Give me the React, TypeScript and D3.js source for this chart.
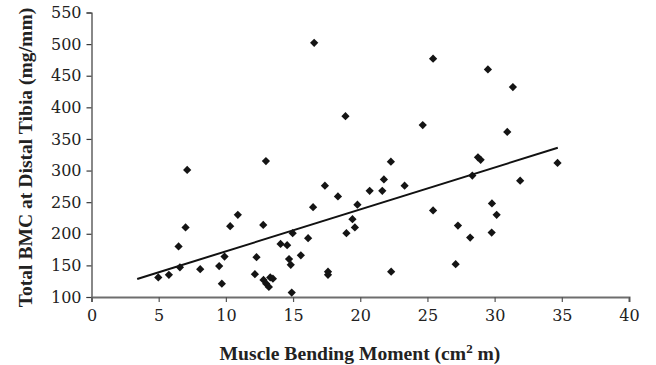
import React, { useEffect, useRef } from 'react';
import * as d3 from 'd3';

// Muscle bending moment (cm² m) vs total BMC at distal tibia (mg/mm)
const momentX = [
  4.97, 5.76, 6.58, 6.48, 7.0, 7.12, 8.09, 9.5, 9.7, 9.9, 10.32, 10.89,
  12.16, 12.28, 12.78, 12.98, 12.8, 13.0, 13.2, 13.3, 13.5, 14.07, 14.56,
  14.7, 14.83, 14.97, 14.9, 15.58, 16.12, 16.49, 16.57, 17.37, 17.6, 17.6,
  18.34, 18.9, 18.97, 19.42, 19.6, 19.79, 20.7, 21.64, 21.76, 22.28, 22.3,
  23.3, 24.65, 25.42, 25.42, 27.1, 27.27, 28.18, 28.34, 28.76, 28.96, 29.5,
  29.8, 29.78, 30.15, 30.94, 31.36, 31.9, 34.68
];
const bmcY = [
  131, 135, 147, 180, 210, 301, 144, 149, 121, 164, 212, 230,
  136, 163, 214, 315, 127, 121, 116, 131, 129, 184, 182,
  160, 151, 201, 107, 166, 193, 242, 502, 276, 135, 140,
  259, 386, 201, 223, 210, 246, 268, 268, 286, 314, 140,
  276, 372, 477, 237, 152, 213, 194, 292, 321, 317, 460,
  248, 202, 230, 361, 432, 284, 312
];

// linear trend line end points
const trendX = [3.4, 34.7];
const trendY = [128.5, 336];

const xTicks = [0, 5, 10, 15, 20, 25, 30, 35, 40];
const yTicks = [100, 150, 200, 250, 300, 350, 400, 450, 500, 550];

const App = () => {
  const svgRef = useRef<SVGSVGElement>(null);

  useEffect(() => {
    document.body.style.margin = '0';
    const width = 656;
    const height = 365;
    const margin = { top: 12.5, right: 27, bottom: 68, left: 91.5 };

    const svg = d3.select(svgRef.current);
    svg.selectAll('*').remove();
    svg.attr('width', width).attr('height', height);

    const g = svg.append('g')
      .attr('transform', `translate(${margin.left},${margin.top})`);
    const w = width - margin.left - margin.right;
    const h = height - margin.top - margin.bottom;

    const x = d3.scaleLinear().domain([0, 40]).range([0, w]);
    const y = d3.scaleLinear().domain([100, 550]).range([h, 0]);

    const font = "'DejaVu Serif', serif";

    // y axis
    const yAxis = g.append('g')
      .call(d3.axisLeft(y).tickValues(yTicks).tickSize(5).tickPadding(5));
    yAxis.selectAll('path,line').attr('stroke', '#3a3a3a').attr('stroke-width', 1.2);
    yAxis.selectAll('text')
      .attr('font-family', font).attr('font-size', 16).attr('fill', '#222');

    // x axis
    const xAxis = g.append('g')
      .attr('transform', `translate(0,${h})`)
      .call(d3.axisBottom(x).tickValues(xTicks).tickSize(5).tickPadding(8));
    xAxis.select('path').attr('stroke', '#6e6e6e').attr('stroke-width', 2);
    xAxis.selectAll('line').attr('stroke', '#555').attr('stroke-width', 1.2);
    xAxis.selectAll('text')
      .attr('font-family', font).attr('font-size', 16).attr('fill', '#222');

    // trend line
    const trend = trendX.map((v, i) => [v, trendY[i]] as [number, number]);
    g.append('path')
      .datum(trend)
      .attr('d', d3.line<[number, number]>().x(d => x(d[0])).y(d => y(d[1])))
      .attr('fill', 'none')
      .attr('stroke', '#111')
      .attr('stroke-width', 2);

    // points
    const pts = momentX.map((v, i) => ({ mx: v, bmc: bmcY[i] }));
    const diamond = d3.symbol().type(d3.symbolSquare).size(34);
    g.selectAll('.pt')
      .data(pts)
      .enter().append('path')
      .attr('class', 'pt')
      .attr('d', diamond)
      .attr('transform', d => `translate(${x(d.mx)},${y(d.bmc)}) rotate(45)`)
      .attr('fill', '#141414');

    // axis titles
    const xt = svg.append('text')
      .attr('x', 360)
      .attr('y', 360)
      .attr('text-anchor', 'middle')
      .attr('font-family', "'Liberation Serif', serif")
      .attr('font-weight', 'bold')
      .attr('font-size', 19.6)
      .attr('fill', '#222');
    xt.append('tspan').text('Muscle Bending Moment (cm');
    xt.append('tspan').attr('font-size', 13).attr('dy', -7).text('2');
    xt.append('tspan').attr('dy', 7).text(' m)');

    svg.append('text')
      .attr('transform', 'translate(32,157.5) rotate(-90)')
      .attr('text-anchor', 'middle')
      .attr('font-family', "'Liberation Serif', serif")
      .attr('font-weight', 'bold')
      .attr('font-size', 19.6)
      .attr('fill', '#222')
      .text('Total BMC at Distal Tibia (mg/mm)');
  }, []);

  return <svg ref={svgRef} style={{ display: 'block' }}></svg>;
};

export default App;
